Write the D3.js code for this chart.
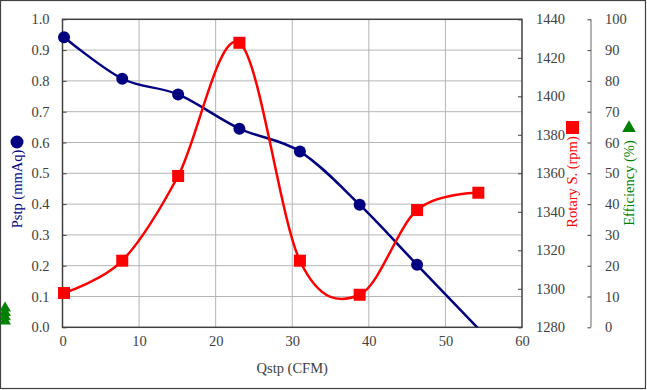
<!DOCTYPE html>
<html>
<head>
<meta charset="utf-8">
<script src="https://cdn.jsdelivr.net/npm/d3@7"></script>
<style>
  html, body { margin: 0; padding: 0; background: #fff; }
  svg { display: block; }
  svg text { font-family: 'Liberation Serif', 'Times New Roman', 'DejaVu Serif', serif !important; }
</style>
</head>
<body>
<svg width="647" height="390"></svg>
<script>
(function () {

  // values
  const flow = [0.2, 7.8, 15.1, 23.1, 31.0, 38.8, 46.3, 54.3];
  const pressure = [0.942, 0.807, 0.756, 0.645, 0.571, 0.398, 0.203, -0.004];
  const speed = [1297.8, 1314.6, 1358.6, 1427.8, 1314.6, 1296.9, 1340.9, 1349.9];
  const effFlow = [-7.5, -7.5, -7.5, -7.5];
  const efficiency = [6.2, 4.8, 3.4, 2.0];

  const xTicks = [0, 10, 20, 30, 40, 50, 60];
  const pTicks = d3.range(0, 1.01, 0.1);
  const rpmTicks = d3.range(1280, 1441, 20);
  const effTicks = d3.range(0, 101, 10);

  const svg = d3.select('svg');
  const m = { left: 62.5, right: 522, top: 19.3, bottom: 327.3 };
  const navy = '#000080', red = '#ff0000', green = '#008000';
  const ink = '#404040';

  const x = d3.scaleLinear().domain([0, 60]).range([m.left, m.right]);
  const yP = d3.scaleLinear().domain([0, 1]).range([m.bottom, m.top]);
  const yR = d3.scaleLinear().domain([1280, 1440]).range([m.bottom, m.top]);
  const yE = d3.scaleLinear().domain([0, 100]).range([m.bottom, m.top]);

  // outer frame
  svg.append('rect')
    .attr('x', 0.5).attr('y', 0.5).attr('width', 645).attr('height', 388)
    .attr('fill', 'none').attr('stroke', ink).attr('stroke-width', 1.2);

  svg.append('clipPath').attr('id', 'plotclip')
    .append('rect')
    .attr('x', m.left).attr('y', m.top)
    .attr('width', m.right - m.left).attr('height', m.bottom - m.top);

  // grid
  const grid = svg.append('g').attr('stroke', '#b4b4b4').attr('stroke-width', 1);
  grid.selectAll('.gx').data(xTicks.slice(1, -1)).join('line')
    .attr('x1', d => x(d)).attr('x2', d => x(d))
    .attr('y1', m.top).attr('y2', m.bottom);
  grid.selectAll('.gy').data(pTicks.slice(1, -1)).join('line')
    .attr('x1', m.left).attr('x2', m.right)
    .attr('y1', d => yP(d)).attr('y2', d => yP(d));

  // axes
  const styleAxis = g => {
    g.attr('font-family', null).attr('font-size', null);
    g.select('.domain').remove();
    g.selectAll('.tick line').attr('stroke', ink);
    g.selectAll('.tick text').attr('fill', ink).attr('font-size', 14.5);
  };

  svg.append('g')
    .attr('transform', `translate(0,${m.bottom})`)
    .call(d3.axisBottom(x).tickValues(xTicks).tickSize(0).tickPadding(8))
    .call(styleAxis);

  svg.append('g')
    .attr('transform', `translate(${m.left},0)`)
    .call(d3.axisLeft(yP).tickValues(pTicks).tickFormat(d3.format('.1f')).tickSizeInner(-4).tickSizeOuter(0).tickPadding(13))
    .call(styleAxis);

  svg.append('g')
    .attr('transform', `translate(${m.right},0)`)
    .call(d3.axisRight(yR).tickValues(rpmTicks).tickFormat(d3.format('d')).tickSizeInner(-4).tickSizeOuter(0).tickPadding(14))
    .call(styleAxis);

  const effX = 591;
  svg.append('line')
    .attr('x1', effX).attr('x2', effX).attr('y1', m.top).attr('y2', m.bottom)
    .attr('stroke', '#808080').attr('stroke-width', 1.2);
  svg.append('g')
    .attr('transform', `translate(${effX},0)`)
    .call(d3.axisRight(yE).tickValues(effTicks).tickFormat(d3.format('d')).tickSizeInner(-3.5).tickSizeOuter(0).tickPadding(14))
    .call(styleAxis);

  // plot frame
  svg.append('rect')
    .attr('x', m.left).attr('y', m.top)
    .attr('width', m.right - m.left).attr('height', m.bottom - m.top)
    .attr('fill', 'none').attr('stroke', ink).attr('stroke-width', 1.5);

  // curves
  const line = d3.line().curve(d3.curveCardinal.tension(0));
  const pPts = flow.map((q, i) => [x(q), yP(pressure[i])]);
  const rPts = flow.map((q, i) => [x(q), yR(speed[i])]);

  svg.append('path')
    .attr('clip-path', 'url(#plotclip)')
    .attr('d', line(pPts))
    .attr('fill', 'none').attr('stroke', navy).attr('stroke-width', 2.5);

  svg.append('path')
    .attr('clip-path', 'url(#plotclip)')
    .attr('d', line(rPts))
    .attr('fill', 'none').attr('stroke', red).attr('stroke-width', 2.5);

  // markers
  svg.append('g').selectAll('circle')
    .data(pPts.filter(p => p[1] <= m.bottom)).join('circle')
    .attr('cx', d => d[0]).attr('cy', d => d[1]).attr('r', 6)
    .attr('fill', navy);

  svg.append('g').selectAll('rect')
    .data(rPts).join('rect')
    .attr('x', d => d[0] - 6).attr('y', d => d[1] - 6)
    .attr('width', 12).attr('height', 12)
    .attr('fill', red);

  const tri = d3.symbol().type(d3.symbolTriangle).size(60);
  svg.append('g').selectAll('path')
    .data(effFlow.map((q, i) => [x(q), yE(efficiency[i])])).join('path')
    .attr('transform', d => `translate(${d[0]},${d[1]})`)
    .attr('d', tri)
    .attr('fill', green);

  // axis titles
  svg.append('text')
    .attr('transform', 'translate(17,189) rotate(-90)')
    .attr('text-anchor', 'middle').attr('dy', '0.35em')
    .attr('fill', navy).attr('font-size', 14.5)
    .text('Pstp (mmAq)');
  svg.append('circle').attr('cx', 17).attr('cy', 142).attr('r', 6.5).attr('fill', navy);

  svg.append('text')
    .attr('transform', 'translate(572,182) rotate(-90)')
    .attr('text-anchor', 'middle').attr('dy', '0.35em')
    .attr('fill', red).attr('font-size', 14.5)
    .text('Rotary S. (rpm)');
  svg.append('rect').attr('x', 566).attr('y', 121).attr('width', 13).attr('height', 13).attr('fill', red);

  svg.append('text')
    .attr('transform', 'translate(629,183) rotate(-90)')
    .attr('text-anchor', 'middle').attr('dy', '0.35em')
    .attr('fill', green).attr('font-size', 14.5)
    .text('Efficiency (%)');
  svg.append('path')
    .attr('transform', 'translate(629,128)')
    .attr('d', d3.symbol().type(d3.symbolTriangle).size(80))
    .attr('fill', green);

  svg.append('text')
    .attr('x', (m.left + m.right) / 2).attr('y', 373)
    .attr('text-anchor', 'middle')
    .attr('fill', ink).attr('font-size', 14.5)
    .text('Qstp (CFM)');

})();
</script>
</body>
</html>
